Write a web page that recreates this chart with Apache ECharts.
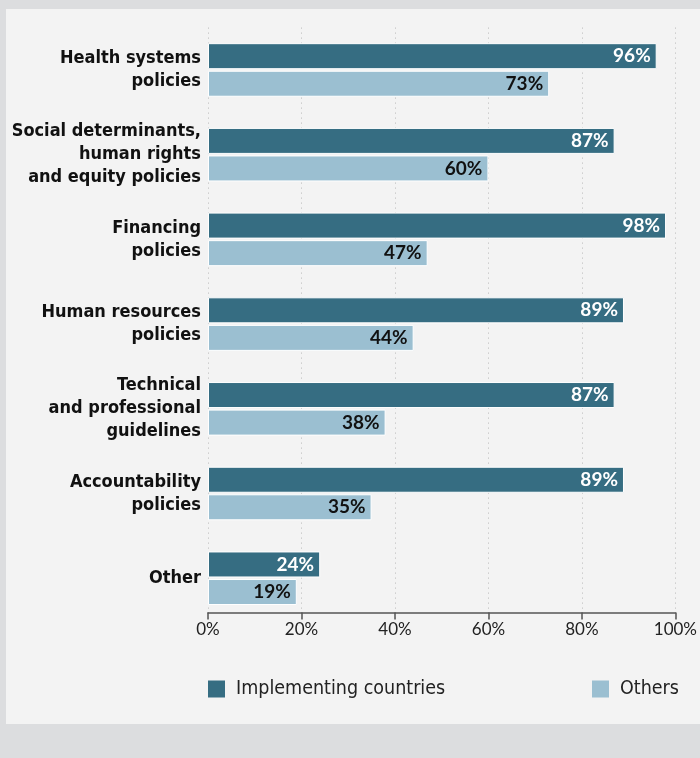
<!DOCTYPE html>
<html><head><meta charset="utf-8">
<script src="https://cdn.jsdelivr.net/npm/echarts@6/dist/echarts.min.js"></script>
<style>html,body{margin:0;padding:0;background:#dcdddf}#c{width:700px;height:758px}</style>
</head><body><div id="c"></div>
<script>
const categories = ['Health systems\npolicies', 'Social determinants,\nhuman rights\nand equity policies', 'Financing\npolicies', 'Human resources\npolicies', 'Technical\nand professional\nguidelines', 'Accountability\npolicies', 'Other'];
const implementing = [96, 87, 98, 89, 87, 89, 24];
const others = [73, 60, 47, 44, 38, 35, 19];
const tickValues = [0, 20, 40, 60, 80, 100];
const seriesNames = ['Implementing countries', 'Others'];

const chart = echarts.init(document.getElementById('c'));
const labelFont = '"DejaVu Sans Condensed", "DejaVu Sans"';
const legendBase = {padding: 0, itemWidth: 17, itemHeight: 17, itemGap: 0, icon: 'rect', top: 679,
  itemStyle: {borderWidth: 0},
  textStyle: {fontFamily: labelFont, fontSize: 19.5, color: '#222', padding: [0, 0, 0, 6]}};
chart.setOption({
  backgroundColor: '#dcdddf',
  animation: false,
  graphic: [{type: 'rect', z: -10, shape: {x: 6, y: 9, width: 694, height: 715}, style: {fill: '#f3f3f3'}}],
  grid: {left: 208, width: 468, top: 27.6, height: 593},
  legend: [
    Object.assign({}, legendBase, {data: [seriesNames[0]], left: 208}),
    Object.assign({}, legendBase, {data: [seriesNames[1]], left: 592})
  ],
  xAxis: {
    type: 'value', min: 0, max: 100, interval: 20, offset: -8,
    axisLine: {show: true, lineStyle: {color: '#555', width: 1.5}},
    axisTick: {show: true, length: 7, lineStyle: {color: '#555', width: 1.5}},
    axisLabel: {formatter: v => tickValues.includes(v) ? v + '%' : '', fontFamily: 'Lato', fontSize: 17, color: '#222', margin: 8},
    splitLine: {show: true, lineStyle: {color: '#b8b8b8', type: [1, 4], width: 1}}
  },
  yAxis: {
    type: 'category', data: categories, inverse: true,
    axisLine: {show: false}, axisTick: {show: false},
    axisLabel: {fontFamily: labelFont, fontWeight: 'bold', fontSize: 18, color: '#111', margin: 7, lineHeight: 23, align: 'right'}
  },
  series: [
    {name: seriesNames[0], type: 'bar', data: implementing, barWidth: 26, barGap: '6%',
     itemStyle: {color: '#366d82', borderColor: '#ffffff', borderWidth: 1},
     label: {show: true, position: 'insideRight', distance: 6, formatter: '{c}%', color: '#ffffff', fontFamily: 'Lato', fontWeight: 'bold', fontSize: 19}},
    {name: seriesNames[1], type: 'bar', data: others, barWidth: 26,
     itemStyle: {color: '#9bbfd1', borderColor: '#ffffff', borderWidth: 1},
     label: {show: true, position: 'insideRight', distance: 6, formatter: '{c}%', color: '#111111', fontFamily: 'Lato', fontWeight: 'bold', fontSize: 19}}
  ]
});
</script></body></html>
